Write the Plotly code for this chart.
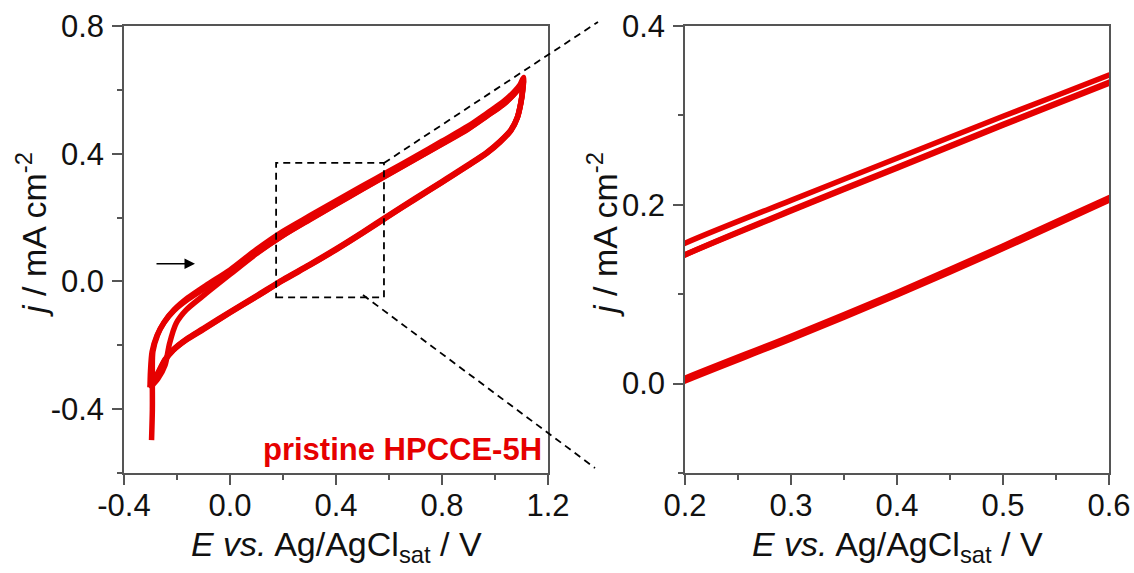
import plotly.graph_objects as go

# ---- data (E in V, j in mA cm^-2) ----
cycle1_E = [-0.296, -0.293, -0.293, -0.291, -0.273, -0.248, -0.21, -0.16, -0.09, 0.0, 0.1, 0.2, 0.3, 0.4, 0.5,
            0.6, 0.7, 0.8, 0.9, 0.97, 1.03, 1.07, 1.095, 1.108,
            1.105, 1.098, 1.085, 1.06, 1.02, 0.97, 0.9, 0.8, 0.7, 0.6, 0.5, 0.4, 0.3, 0.2, 0.1, 0.0,
            -0.1, -0.164, -0.214, -0.245, -0.27, -0.29, -0.302]
cycle1_j = [-0.497, -0.40, -0.30, -0.22, -0.167, -0.127, -0.088, -0.052, -0.012, 0.036, 0.100, 0.157, 0.205, 0.252, 0.299,
            0.345, 0.392, 0.439, 0.487, 0.527, 0.562, 0.592, 0.617, 0.639,
            0.60, 0.56, 0.515, 0.475, 0.44, 0.405, 0.366, 0.313, 0.261, 0.208, 0.154, 0.102, 0.053, 0.006, -0.045, -0.095,
            -0.147, -0.18, -0.213, -0.244, -0.283, -0.316, -0.332]

cycle2_E = [-0.302, -0.300, -0.294, -0.276, -0.25, -0.212, -0.16, -0.09, 0.0, 0.1, 0.2, 0.3, 0.4, 0.5,
            0.6, 0.7, 0.8, 0.9, 0.97, 1.03, 1.07, 1.095, 1.107,
            1.104, 1.097, 1.084, 1.06, 1.02, 0.97, 0.9, 0.8, 0.7, 0.6, 0.5, 0.4, 0.3, 0.2, 0.1, 0.0,
            -0.1, -0.164, -0.214, -0.245, -0.27, -0.29, -0.303]
cycle2_j = [-0.332, -0.28, -0.22, -0.17, -0.13, -0.092, -0.057, -0.019, 0.027, 0.089, 0.144, 0.193, 0.241, 0.289,
            0.336, 0.383, 0.430, 0.478, 0.518, 0.553, 0.584, 0.61, 0.633,
            0.597, 0.557, 0.512, 0.472, 0.437, 0.402, 0.363, 0.310, 0.258, 0.205, 0.151, 0.099, 0.050, 0.003, -0.048, -0.098,
            -0.150, -0.183, -0.216, -0.247, -0.286, -0.318, -0.334]

cycle3_E = [-0.303, -0.272, -0.245, -0.228, -0.203, -0.166, -0.103, 0.0, 0.1, 0.2, 0.3, 0.4, 0.5,
            0.6, 0.7, 0.8, 0.9, 0.97, 1.03, 1.07, 1.095, 1.107,
            1.104, 1.097, 1.084, 1.06, 1.02, 0.97, 0.9, 0.8, 0.7, 0.6, 0.5, 0.4, 0.3, 0.2, 0.1, 0.0,
            -0.1, -0.164, -0.214, -0.245, -0.27, -0.29, -0.303]
cycle3_j = [-0.334, -0.305, -0.262, -0.194, -0.131, -0.09, -0.046, 0.022, 0.087, 0.144, 0.194, 0.242, 0.29,
            0.337, 0.384, 0.431, 0.479, 0.519, 0.554, 0.585, 0.611, 0.634,
            0.598, 0.558, 0.513, 0.473, 0.438, 0.403, 0.364, 0.311, 0.259, 0.206, 0.152, 0.100, 0.051, 0.004, -0.047, -0.097,
            -0.149, -0.182, -0.215, -0.246, -0.285, -0.317, -0.333]

cycles = [(cycle1_E, cycle1_j), (cycle2_E, cycle2_j), (cycle3_E, cycle3_j)]

# tick values / labels
left_x_ticks = [-0.4, 0.0, 0.4, 0.8, 1.2]
left_x_labels = ["-0.4", "0.0", "0.4", "0.8", "1.2"]
left_y_ticks = [-0.4, 0.0, 0.4, 0.8]
left_y_labels = ["-0.4", "0.0", "0.4", "0.8"]
right_x_ticks = [0.2, 0.3, 0.4, 0.5, 0.6]
right_x_labels = ["0.2", "0.3", "0.4", "0.5", "0.6"]
right_y_ticks = [0.0, 0.2, 0.4]
right_y_labels = ["0.0", "0.2", "0.4"]

# zoom window drawn on the left panel (E range, j range)
zoom_E = [0.174, 0.581]
zoom_j = [-0.05, 0.371]

sample_label = "pristine HPCCE-5H"

# ---- styling ----
RED = "#e60000"
AXC = "#555555"
FONT = "Liberation Sans, Arial, sans-serif"
W, H = 1134, 573


def px(x):
    return x / W


def py(y):
    return 1 - y / H


fig = go.Figure()
for E, j in cycles:
    for xa, ya in (("x", "y"), ("x2", "y2")):
        fig.add_trace(go.Scatter(x=E, y=j, mode="lines", xaxis=xa, yaxis=ya,
                                 line=dict(color=RED, width=5.5, shape="spline", smoothing=0.8),
                                 showlegend=False, hoverinfo="skip"))


def axis(domain, rng, tv, tt, mdt, anchor, standoff):
    return dict(domain=domain, range=rng, tickmode="array", tickvals=tv, ticktext=tt, anchor=anchor,
                showline=True, mirror=True, linecolor=AXC, linewidth=1.5, ticks="outside",
                ticklen=10, tickwidth=1.5, tickcolor=AXC, showgrid=False, zeroline=False,
                tickfont=dict(family=FONT, size=31, color="#111"), ticklabelstandoff=standoff,
                automargin=False,
                minor=dict(tickmode="linear", tick0=0, dtick=mdt, ticks="outside", ticklen=5,
                           tickwidth=1.5, tickcolor=AXC, showgrid=False))


ydom = [py(473), py(26)]
fig.update_layout(
    width=W, height=H, margin=dict(l=0, r=0, t=0, b=0),
    plot_bgcolor="white", paper_bgcolor="white",
    xaxis=axis([px(124), px(548)], [-0.4, 1.2], left_x_ticks, left_x_labels, 0.2, "y", -6),
    yaxis=axis(ydom, [-0.6, 0.8], left_y_ticks, left_y_labels, 0.2, "x", 2),
    xaxis2=axis([px(685), px(1109)], [0.2, 0.6], right_x_ticks, right_x_labels, 0.05, "y2", -6),
    yaxis2=axis(ydom, [-0.1, 0.4], right_y_ticks, right_y_labels, 0.1, "x2", 2),
)

xtitle = "<i>E vs.</i> Ag/AgCl<sub>sat</sub> / V"
ytitle = "<i>j</i> / mA cm<sup>-2</sup>"
tfont = dict(family=FONT, size=34, color="#111")
for cx in (336, 897):
    fig.add_annotation(text=xtitle, x=px(cx), y=py(546), xref="paper", yref="paper",
                       showarrow=False, font=tfont, xanchor="center", yanchor="middle")
for cx in (31, 602):
    fig.add_annotation(text=ytitle, x=px(cx), y=py(235), xref="paper", yref="paper",
                       showarrow=False, font=tfont, textangle=-90, xanchor="center", yanchor="middle")

# sample label
fig.add_annotation(text="<b>" + sample_label + "</b>", x=1.183, y=-0.525, xref="x", yref="y",
                   showarrow=False, xanchor="right", yanchor="middle",
                   font=dict(family=FONT, size=31, color=RED))

# sweep direction arrow
fig.add_annotation(x=-0.132, y=0.055, ax=-0.283, ay=0.055, xref="x", yref="y", axref="x", ayref="y",
                   showarrow=True, arrowhead=2, arrowsize=1.4, arrowwidth=1.5, arrowcolor="black", text="")

# zoom rectangle and connector lines
dash = dict(color="black", width=1.8, dash="7px,5px")
fig.add_shape(type="rect", xref="x", yref="y", x0=zoom_E[0], x1=zoom_E[1], y0=zoom_j[0], y1=zoom_j[1],
              line=dash, layer="above")
fig.add_shape(type="line", xref="paper", yref="paper", x0=px(384), y0=py(163), x1=px(598), y1=py(22),
              line=dash, layer="above")
fig.add_shape(type="line", xref="paper", yref="paper", x0=px(363), y0=py(295), x1=px(595), y1=py(468),
              line=dash, layer="above")

fig.write_html("out.html")
